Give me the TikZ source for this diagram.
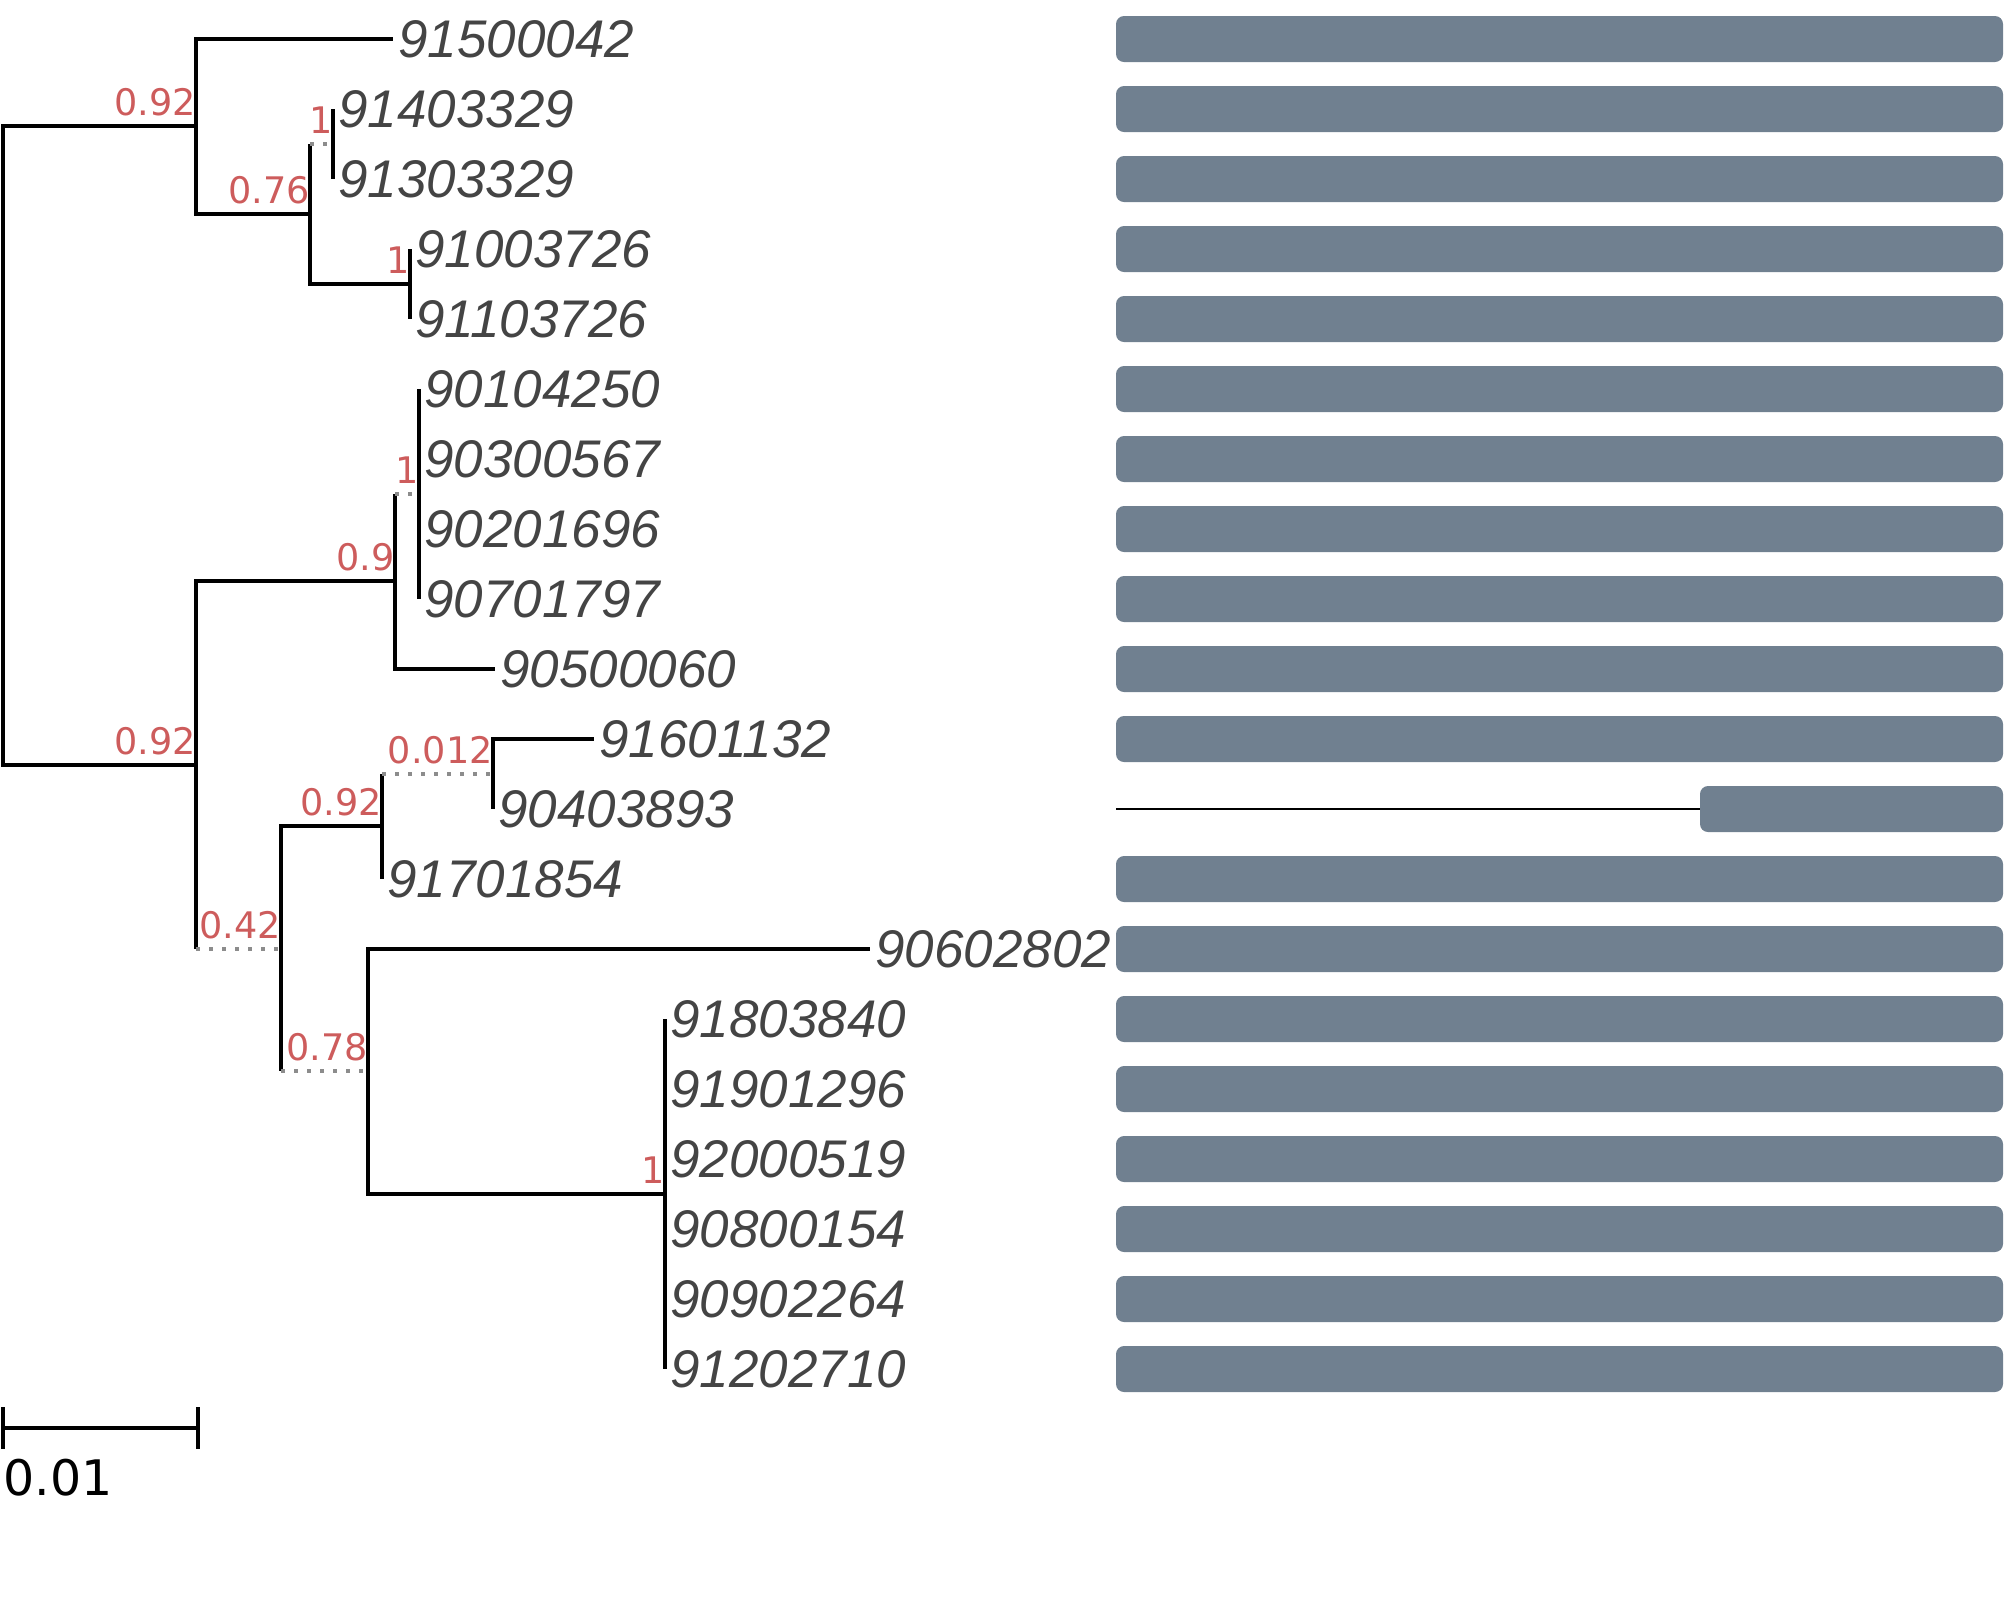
\documentclass[tikz,border=0pt]{standalone}
\usepackage{fontspec}
\usepackage{tikz}
\usetikzlibrary{positioning}
\newfontfamily\leaffont{Liberation Sans}
\newfontfamily\suppfont{DejaVu Sans}
\definecolor{supred}{RGB}{205,92,92}
\definecolor{leafgray}{RGB}{68,68,68}
\definecolor{barcol}{RGB}{112,128,144}
\definecolor{dotgray}{RGB}{140,140,140}

\tikzset{
  branch/.style={line width=1.6pt},
  zerobranch/.style={line width=1.6pt, dotgray, dash pattern=on 2pt off 4.5pt},
  leaf/.style={anchor=west, inner xsep=2.5pt, inner ysep=0pt, text=leafgray,
    font=\leaffont\itshape\fontsize{26.5}{30}\selectfont},
  supp/.style={anchor=south east, inner sep=0pt, yshift=5pt, text=supred,
    font=\suppfont\fontsize{18.3}{20}\selectfont},
  bar/.style={fill=barcol, rounded corners=4pt},
}

\begin{document}
\begin{tikzpicture}[x=0.5pt, y=-0.5pt]
    \useasboundingbox (0,0) rectangle (2007,1603);

    % internal nodes
    \coordinate (root) at (3,445);
    \coordinate (A) at (196,126);
    \coordinate (B) at (310,214);
    \coordinate (C) at (333,144);
    \coordinate (D) at (410,284);
    \coordinate (E) at (196,765);
    \coordinate (F) at (395,581);
    \coordinate (G) at (419,494);
    \coordinate (H) at (281,949);
    \coordinate (I) at (382,826);
    \coordinate (J) at (493,774);
    \coordinate (K) at (368,1071);
    \coordinate (L) at (665,1194);

    % leaves
    \node[leaf] (n91500042) at (393,39) {91500042};
    \node[leaf] (n91403329) at (333,109) {91403329};
    \node[leaf] (n91303329) at (333,179) {91303329};
    \node[leaf] (n91003726) at (410,249) {91003726};
    \node[leaf] (n91103726) at (410,319) {91103726};
    \node[leaf] (n90104250) at (419,389) {90104250};
    \node[leaf] (n90300567) at (419,459) {90300567};
    \node[leaf] (n90201696) at (419,529) {90201696};
    \node[leaf] (n90701797) at (419,599) {90701797};
    \node[leaf] (n90500060) at (495,669) {90500060};
    \node[leaf] (n91601132) at (594,739) {91601132};
    \node[leaf] (n90403893) at (493,809) {90403893};
    \node[leaf] (n91701854) at (382,879) {91701854};
    \node[leaf] (n90602802) at (870,949) {90602802};
    \node[leaf] (n91803840) at (665,1019) {91803840};
    \node[leaf] (n91901296) at (665,1089) {91901296};
    \node[leaf] (n92000519) at (665,1159) {92000519};
    \node[leaf] (n90800154) at (665,1229) {90800154};
    \node[leaf] (n90902264) at (665,1299) {90902264};
    \node[leaf] (n91202710) at (665,1369) {91202710};

    % branches
    \draw[branch] (root) |- (A);
    \draw[branch] (root) |- (E);
    \draw[branch] (A) |- (n91500042.west);
    \draw[branch] (A) |- (B);
    \draw[branch] (B) -- (B |- C);
    \draw[zerobranch] (B |- C) -- (C);
    \draw[branch] (B) |- (D);
    \draw[branch] (C) |- (n91403329.west);
    \draw[branch] (C) |- (n91303329.west);
    \draw[branch] (D) |- (n91003726.west);
    \draw[branch] (D) |- (n91103726.west);

    \draw[branch] (E) |- (F);
    \draw[branch] (E) -- (E |- H);
    \draw[zerobranch] (E |- H) -- (H);
    \draw[branch] (F) -- (F |- G);
    \draw[zerobranch] (F |- G) -- (G);
    \draw[branch] (F) |- (n90500060.west);
    \draw[branch] (G) |- (n90104250.west);
    \draw[branch] (G) |- (n90701797.west);
    \draw[branch] (H) |- (I);
    \draw[branch] (H) -- (H |- K);
    \draw[zerobranch] (H |- K) -- (K);
    \draw[branch] (I) -- (I |- J);
    \draw[zerobranch] (I |- J) -- (J);
    \draw[branch] (I) |- (n91701854.west);
    \draw[branch] (J) |- (n91601132.west);
    \draw[branch] (J) |- (n90403893.west);
    \draw[branch] (K) |- (n90602802.west);
    \draw[branch] (K) |- (L);
    \draw[branch] (L) |- (n91803840.west);
    \draw[branch] (L) |- (n91202710.west);

    % support values
    \node[supp] (sA) at (A) {0.92};
    \node[supp] (sB) at (B) {0.76};
    \node[supp] (sC) at (C) {1};
    \node[supp] (sD) at (D) {1};
    \node[supp] (sE) at (E) {0.92};
    \node[supp] (sF) at (F) {0.9};
    \node[supp] (sG) at (G) {1};
    \node[supp] (sH) at (H) {0.42};
    \node[supp] (sI) at (I) {0.92};
    \node[supp] (sJ) at (J) {0.012};
    \node[supp] (sK) at (K) {0.78};
    \node[supp] (sL) at (L) {1};

    % bars
    \fill[bar] (1116,16) rectangle (2003,62);
    \fill[bar] (1116,86) rectangle (2003,132);
    \fill[bar] (1116,156) rectangle (2003,202);
    \fill[bar] (1116,226) rectangle (2003,272);
    \fill[bar] (1116,296) rectangle (2003,342);
    \fill[bar] (1116,366) rectangle (2003,412);
    \fill[bar] (1116,436) rectangle (2003,482);
    \fill[bar] (1116,506) rectangle (2003,552);
    \fill[bar] (1116,576) rectangle (2003,622);
    \fill[bar] (1116,646) rectangle (2003,692);
    \fill[bar] (1116,716) rectangle (2003,762);
    \draw[line width=0.6pt] (1116,809) -- (1700,809);
    \fill[bar] (1700,786) rectangle (2003,832);
    \fill[bar] (1116,856) rectangle (2003,902);
    \fill[bar] (1116,926) rectangle (2003,972);
    \fill[bar] (1116,996) rectangle (2003,1042);
    \fill[bar] (1116,1066) rectangle (2003,1112);
    \fill[bar] (1116,1136) rectangle (2003,1182);
    \fill[bar] (1116,1206) rectangle (2003,1252);
    \fill[bar] (1116,1276) rectangle (2003,1322);
    \fill[bar] (1116,1346) rectangle (2003,1392);

    % scale bar
    \coordinate (sb1) at (3,1428);
    \coordinate (sb2) at (198,1428);
    \draw[branch] (sb1) -- (sb2);
    \draw[line width=1.6pt] ([yshift=10.5pt]sb1) -- ([yshift=-10.5pt]sb1);
    \draw[line width=1.6pt] ([yshift=10.5pt]sb2) -- ([yshift=-10.5pt]sb2);
    \node[anchor=north west, inner sep=0pt, font=\suppfont\fontsize{24.5}{27}\selectfont]
      (sblab) at ([yshift=-15.5pt]sb1) {0.01};
\end{tikzpicture}
\end{document}
